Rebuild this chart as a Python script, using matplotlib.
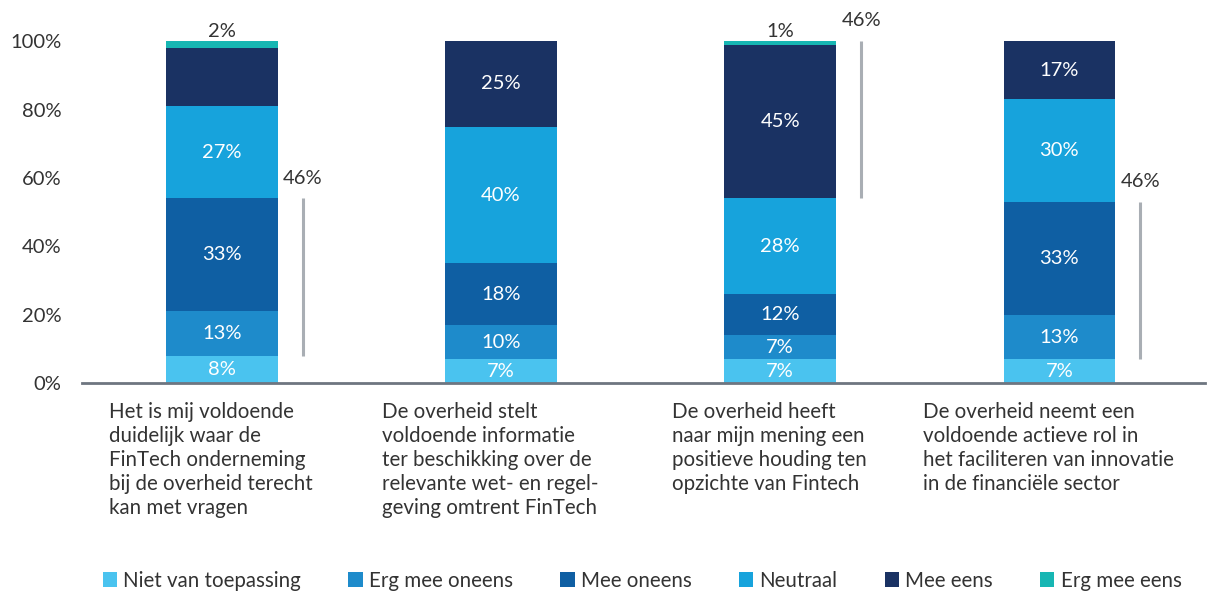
import matplotlib.pyplot as plt
import numpy as np

plt.rcParams['font.family'] = ['Lato', 'DejaVu Sans']

categories = [
    'Het is mij voldoende\nduidelijk waar de\nFinTech onderneming\nbij de overheid terecht\nkan met vragen',
    'De overheid stelt\nvoldoende informatie\nter beschikking over de\nrelevante wet- en regel-\ngeving omtrent FinTech',
    'De overheid heeft\nnaar mijn mening een\npositieve houding ten\nopzichte van Fintech',
    'De overheid neemt een\nvoldoende actieve rol in\nhet faciliteren van innovatie\nin de financiële sector',
]
series = ['Niet van toepassing', 'Erg mee oneens', 'Mee oneens',
          'Neutraal', 'Mee eens', 'Erg mee eens']
values = {
    'Niet van toepassing': [8, 7, 7, 7],
    'Erg mee oneens':      [13, 10, 7, 13],
    'Mee oneens':          [33, 18, 12, 33],
    'Neutraal':            [27, 40, 28, 30],
    'Mee eens':            [17, 25, 45, 17],
    'Erg mee eens':        [2, 0, 1, 0],
}
colors = ['#4AC3EF', '#1E8BCB', '#0F5FA3', '#17A3DC', '#1A3263', '#17B6B3']
hidden_labels = [(0, 'Mee eens')]          # segment without a printed value
outside_series = 'Erg mee eens'            # printed above the bar
# grey brackets: (category, first series, last series)
brackets = [(0, 'Erg mee oneens', 'Mee oneens'),
            (2, 'Mee eens', 'Erg mee eens'),
            (3, 'Erg mee oneens', 'Mee oneens')]

fig = plt.figure(figsize=(12.07, 5.96), dpi=100)
ax = fig.add_axes([0.068, 0.357, 0.93, 0.574])

x = np.arange(len(categories))
width = 0.4
bottom = np.zeros(len(categories))
bounds = {}
for s, c in zip(series, colors):
    v = np.array(values[s], dtype=float)
    ax.bar(x, v, width, bottom=bottom, color=c, label=s, linewidth=0)
    for i in range(len(x)):
        bounds[(i, s)] = (bottom[i], bottom[i] + v[i])
        if v[i] == 0 or (i, s) in hidden_labels:
            continue
        if s == outside_series:
            ax.text(x[i], bottom[i] + v[i] + 0.3, f'{v[i]:.0f}%', ha='center',
                    va='bottom', fontsize=14.5, color='#333333')
        else:
            ax.text(x[i], bottom[i] + v[i] / 2, f'{v[i]:.0f}%', ha='center',
                    va='center', fontsize=14.5, color='white')
    bottom += v

for i, s0, s1 in brackets:
    lo = bounds[(i, s0)][0]
    hi = bounds[(i, s1)][1]
    xb = x[i] + 0.29
    ax.plot([xb, xb], [lo, hi], color='#A9AEB4', lw=2.2, solid_capstyle='butt',
            clip_on=False)
    ax.text(xb, hi + 3.5, f'{hi - lo:.0f}%', ha='center', va='bottom',
            fontsize=14.5, color='#333333', clip_on=False)

for i, lab in enumerate(categories):
    ax.text(x[i] - 0.04, -5.5, lab, ha='center', va='top', ma='left',
            fontsize=14.8, color='#333333', linespacing=1.25)

ax.set_xlim(-0.5, 3.52)
ax.set_ylim(0, 100)
ax.set_yticks(range(0, 101, 20))
ax.set_yticklabels([f'{t}%' for t in range(0, 101, 20)])
ax.set_xticks([])
ax.tick_params(axis='y', length=0, labelsize=14.5, colors='#333333', pad=15)
for sp in ['top', 'right', 'left']:
    ax.spines[sp].set_visible(False)
ax.spines['bottom'].set_color('#6E7580')
ax.spines['bottom'].set_linewidth(2)

fig.legend(loc='lower center', bbox_to_anchor=(0.532, -0.022), ncol=6,
           frameon=False, fontsize=14.8, handlelength=0.7, handleheight=0.7,
           handletextpad=0.3, columnspacing=2.3, labelcolor='#333333')

fig.savefig('out.png', dpi=100)
